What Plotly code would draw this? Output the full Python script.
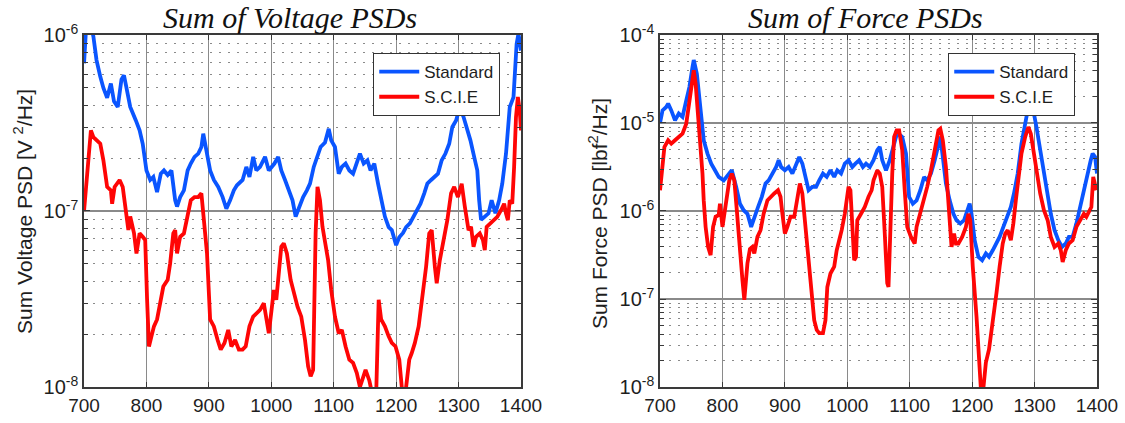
import plotly.graph_objects as go

# ---- Sum of Voltage PSDs (V^2/Hz) ----
volt_freq_std = [700, 703, 708, 712, 715, 720, 726, 731, 737, 743, 748, 754, 760, 764, 768,
                 774, 783, 789, 794, 800, 806, 811, 817, 823, 828, 834, 840, 846, 849, 854,
                 860, 866, 871, 877, 883, 888, 891, 896, 902, 908, 915, 922, 928, 934, 940,
                 945, 954, 960, 965, 971, 976, 982, 990, 996, 1005, 1011, 1016, 1022, 1028, 1034,
                 1039, 1045, 1051, 1057, 1062, 1068, 1074, 1079, 1086, 1092, 1096, 1102, 1108, 1113, 1119,
                 1125, 1131, 1137, 1142, 1148, 1154, 1159, 1165, 1171, 1176, 1182, 1188, 1193, 1200, 1205,
                 1211, 1216, 1222, 1228, 1233, 1239, 1245, 1250, 1256, 1262, 1267, 1273, 1279, 1285, 1290,
                 1296, 1302, 1308, 1313, 1319, 1325, 1330, 1333, 1336, 1342, 1348, 1353, 1359, 1365, 1370,
                 1376, 1382, 1388, 1393, 1396, 1400]
volt_std = [6.9e-7, 1.05e-6, 1.1e-6, 1.1e-6, 9.8e-7, 7.2e-7, 5.8e-7, 5.0e-7, 4.4e-7, 5.3e-7,
            4.2e-7, 3.9e-7, 5.6e-7, 5.9e-7, 5.0e-7, 3.9e-7, 3.27e-7, 2.87e-7, 2.41e-7, 1.70e-7,
            1.50e-7, 1.56e-7, 1.28e-7, 1.63e-7, 1.70e-7, 1.60e-7, 1.70e-7, 1.15e-7, 1.06e-7, 1.20e-7,
            1.31e-7, 1.70e-7, 1.86e-7, 2.03e-7, 2.12e-7, 2.31e-7, 2.75e-7, 2.21e-7, 1.70e-7, 1.50e-7,
            1.37e-7, 1.20e-7, 1.03e-7, 1.15e-7, 1.31e-7, 1.40e-7, 1.50e-7, 1.78e-7, 1.56e-7, 2.03e-7,
            1.70e-7, 1.78e-7, 2.03e-7, 1.70e-7, 1.86e-7, 2.03e-7, 1.70e-7, 1.50e-7, 1.31e-7, 1.15e-7,
            9.3e-8, 1.06e-7, 1.20e-7, 1.31e-7, 1.43e-7, 1.78e-7, 2.03e-7, 2.31e-7, 2.45e-7, 2.93e-7,
            2.52e-7, 2.31e-7, 1.63e-7, 1.78e-7, 1.86e-7, 1.70e-7, 1.63e-7, 1.86e-7, 2.12e-7, 1.86e-7,
            1.94e-7, 1.70e-7, 1.86e-7, 1.43e-7, 1.15e-7, 9.3e-8, 8.1e-8, 7.8e-8, 6.4e-8, 7.1e-8,
            7.5e-8, 8.1e-8, 8.5e-8, 9.3e-8, 1.01e-7, 1.10e-7, 1.26e-7, 1.43e-7, 1.50e-7, 1.56e-7,
            1.63e-7, 1.94e-7, 2.12e-7, 2.41e-7, 3.00e-7, 3.27e-7, 3.89e-7, 3.42e-7, 3.00e-7, 2.52e-7,
            2.03e-7, 1.70e-7, 1.15e-7, 8.9e-8, 9.3e-8, 9.7e-8, 1.15e-7, 9.7e-8, 1.15e-7, 1.43e-7,
            2.12e-7, 3.89e-7, 4.44e-7, 8.9e-7, 1.02e-6, 8.15e-7]

volt_freq_scie = [700, 706, 711, 715, 720, 726, 731, 737, 743, 745, 749, 757, 762, 768, 771,
                  774, 780, 784, 789, 794, 798, 801, 804, 808, 812, 817, 823, 827, 834, 838,
                  843, 846, 849, 854, 860, 866, 871, 877, 883, 888, 892, 897, 902, 908, 914,
                  919, 925, 931, 936, 942, 948, 954, 959, 965, 971, 976, 982, 988, 992, 996,
                  1001, 1004, 1008, 1012, 1016, 1020, 1025, 1031, 1036, 1042, 1048, 1054, 1059, 1063, 1067,
                  1071, 1074, 1078, 1082, 1086, 1091, 1096, 1102, 1108, 1113, 1119, 1125, 1131, 1137, 1142,
                  1145, 1151, 1157, 1162, 1168, 1172, 1176, 1182, 1188, 1193, 1199, 1205, 1209, 1212, 1216,
                  1221, 1225, 1230, 1236, 1242, 1248, 1253, 1257, 1262, 1265, 1270, 1276, 1282, 1288, 1293,
                  1299, 1305, 1310, 1316, 1320, 1324, 1328, 1334, 1339, 1342, 1345, 1351, 1356, 1362, 1368,
                  1373, 1376, 1379, 1382, 1386, 1389, 1392, 1395, 1398, 1400]
volt_scie = [1.0e-7, 1.94e-7, 2.87e-7, 2.63e-7, 2.52e-7, 2.41e-7, 1.94e-7, 1.37e-7, 1.31e-7, 1.10e-7,
             1.37e-7, 1.50e-7, 1.37e-7, 9.3e-8, 7.8e-8, 9.3e-8, 7.5e-8, 5.74e-8, 7.46e-8, 7.14e-8,
             6.84e-8, 3.13e-8, 1.70e-8, 1.94e-8, 2.21e-8, 2.42e-8, 3.13e-8, 3.72e-8, 4.06e-8, 5.05e-8,
             7.46e-8, 7.78e-8, 5.74e-8, 7.14e-8, 7.46e-8, 9.68e-8, 1.15e-7, 1.20e-7, 1.20e-7, 1.26e-7,
             9.27e-8, 5.74e-8, 2.42e-8, 2.21e-8, 1.85e-8, 1.63e-8, 1.78e-8, 2.11e-8, 1.70e-8, 1.85e-8,
             1.63e-8, 1.63e-8, 1.70e-8, 2.21e-8, 2.51e-8, 2.62e-8, 2.74e-8, 2.99e-8, 2.42e-8, 2.02e-8,
             2.86e-8, 3.56e-8, 3.13e-8, 4.24e-8, 6.27e-8, 6.55e-8, 5.74e-8, 4.06e-8, 3.41e-8, 2.86e-8,
             2.51e-8, 1.85e-8, 1.31e-8, 1.15e-8, 1.25e-8, 7.46e-8, 1.37e-7, 1.15e-7, 8.13e-8, 6.84e-8,
             5.26e-8, 3.56e-8, 2.51e-8, 2.02e-8, 2.11e-8, 1.70e-8, 1.43e-8, 1.37e-8, 1.20e-8, 1.00e-8,
             1.09e-8, 1.25e-8, 1.09e-8, 9.0e-9, 9.0e-9, 3.13e-8, 2.42e-8, 2.21e-8, 1.94e-8, 1.78e-8,
             1.70e-8, 1.43e-8, 1.00e-8, 9.0e-9, 1.00e-8, 1.43e-8, 1.56e-8, 1.78e-8, 2.21e-8, 3.13e-8,
             4.83e-8, 7.46e-8, 7.78e-8, 4.83e-8, 3.88e-8, 5.26e-8, 6.84e-8, 8.87e-8, 1.26e-7, 1.37e-7,
             1.20e-7, 1.43e-7, 1.06e-7, 7.78e-8, 8.13e-8, 6.27e-8, 7.14e-8, 7.46e-8, 6.84e-8, 6.0e-8,
             8.13e-8, 8.5e-8, 8.87e-8, 9.27e-8, 1.01e-7, 1.10e-7, 9.68e-8, 8.87e-8, 1.15e-7, 1.10e-7,
             1.78e-7, 3.42e-7, 4.44e-7, 3.73e-7, 2.87e-7]

# ---- Sum of Force PSDs (lbf^2/Hz) ----
force_freq_std = [700, 704, 710, 713, 718, 724, 730, 736, 742, 747, 752, 754, 759, 765, 770,
                  776, 782, 788, 794, 802, 811, 815, 822, 828, 834, 840, 846, 851, 857, 863,
                  869, 874, 880, 886, 890, 894, 900, 906, 912, 918, 923, 928, 932, 938, 944,
                  950, 955, 961, 967, 973, 979, 984, 990, 996, 1002, 1008, 1013, 1019, 1025, 1030,
                  1036, 1042, 1048, 1052, 1056, 1062, 1068, 1074, 1078, 1082, 1088, 1094, 1099, 1105, 1111,
                  1117, 1123, 1128, 1134, 1140, 1146, 1149, 1153, 1158, 1164, 1170, 1175, 1181, 1187, 1193,
                  1196, 1199, 1204, 1210, 1216, 1222, 1227, 1233, 1239, 1244, 1250, 1256, 1262, 1267, 1273,
                  1279, 1285, 1290, 1294, 1298, 1303, 1309, 1315, 1321, 1326, 1332, 1338, 1344, 1350, 1355,
                  1361, 1367, 1373, 1379, 1384, 1390, 1393, 1397, 1400]
force_std = [1.0e-5, 1.39e-5, 1.52e-5, 1.66e-5, 1.39e-5, 1.07e-5, 1.28e-5, 1.17e-5, 1.81e-5, 2.56e-5,
             4.33e-5, 5.2e-5, 3.63e-5, 1.39e-5, 6.36e-6, 4.49e-6, 3.45e-6, 2.9e-6, 2.44e-6, 2.23e-6,
             2.66e-6, 2.9e-6, 1.88e-6, 1.21e-6, 1.02e-6, 9.3e-7, 6.6e-7, 8.6e-7, 1.11e-6, 1.45e-6,
             2.05e-6, 2.23e-6, 2.66e-6, 3.16e-6, 3.77e-6, 3.16e-6, 2.9e-6, 3.16e-6, 2.66e-6, 3.45e-6,
             4.11e-6, 3.45e-6, 2.66e-6, 1.72e-6, 1.88e-6, 1.88e-6, 2.23e-6, 2.66e-6, 2.44e-6, 2.9e-6,
             2.44e-6, 2.9e-6, 2.66e-6, 3.45e-6, 3.77e-6, 3.16e-6, 3.45e-6, 3.77e-6, 3.16e-6, 3.45e-6,
             3.16e-6, 3.77e-6, 4.9e-6, 5.34e-6, 3.77e-6, 2.9e-6, 3.77e-6, 5.34e-6, 6.94e-6, 7.57e-6,
             6.94e-6, 4.49e-6, 1.45e-6, 1.21e-6, 1.32e-6, 1.72e-6, 2.44e-6, 2.23e-6, 2.66e-6, 3.77e-6,
             5.82e-6, 6.94e-6, 4.11e-6, 2.05e-6, 1.32e-6, 9.3e-7, 7.85e-7, 7.2e-7, 7.85e-7, 1.02e-6,
             1.21e-6, 9.3e-7, 4.66e-7, 3.01e-7, 2.76e-7, 3.29e-7, 3.01e-7, 3.58e-7, 4.27e-7, 5.08e-7,
             6.6e-7, 8.6e-7, 1.11e-6, 1.58e-6, 2.66e-6, 5.82e-6, 1.07e-5, 1.52e-5, 1.81e-5, 1.39e-5,
             9.0e-6, 4.9e-6, 2.44e-6, 1.32e-6, 9.3e-7, 6.05e-7, 4.66e-7, 3.91e-7, 4.27e-7, 5.08e-7,
             5.08e-7, 7.2e-7, 1.11e-6, 1.88e-6, 2.66e-6, 3.77e-6, 4.49e-6, 4.11e-6, 2.66e-6]

force_freq_scie = [700, 703, 707, 713, 718, 724, 730, 736, 742, 747, 750, 754, 757, 761, 765,
                   768, 770, 773, 777, 781, 785, 789, 794, 796, 800, 805, 811, 815, 819, 823,
                   828, 832, 835, 840, 844, 848, 851, 856, 861, 866, 872, 877, 883, 889, 893,
                   896, 900, 904, 909, 915, 920, 924, 928, 932, 938, 943, 947, 951, 955, 961,
                   965, 968, 973, 979, 983, 987, 991, 996, 999, 1002, 1005, 1008, 1011, 1014, 1016,
                   1022, 1028, 1034, 1039, 1042, 1048, 1052, 1056, 1060, 1064, 1066, 1068, 1072, 1075, 1079,
                   1083, 1088, 1092, 1096, 1102, 1108, 1111, 1117, 1123, 1128, 1134, 1140, 1146, 1149, 1153,
                   1158, 1163, 1167, 1171, 1174, 1178, 1184, 1190, 1194, 1197, 1201, 1207, 1211, 1214, 1218,
                   1222, 1227, 1233, 1239, 1244, 1249, 1253, 1257, 1262, 1266, 1270, 1275, 1279, 1285, 1290,
                   1294, 1298, 1303, 1309, 1315, 1321, 1326, 1332, 1338, 1342, 1345, 1350, 1355, 1361, 1367,
                   1373, 1379, 1383, 1386, 1391, 1394, 1397, 1399]
force_scie = [1.72e-6, 3.16e-6, 5.34e-6, 6.36e-6, 5.82e-6, 6.36e-6, 6.94e-6, 7.57e-6, 9.8e-6, 1.81e-5,
              2.8e-5, 3.96e-5, 2.8e-5, 1.17e-5, 6.36e-6, 2.66e-6, 1.32e-6, 6.6e-7, 3.91e-7, 3.15e-7,
              6.6e-7, 8.6e-7, 9.0e-7, 1.21e-6, 6.6e-7, 1.21e-6, 2.23e-6, 2.66e-6, 2.23e-6, 1.02e-6,
              3.29e-7, 1.64e-7, 9.8e-8, 2.53e-7, 3.7e-7, 3.91e-7, 3.29e-7, 5.08e-7, 6.05e-7, 9.3e-7,
              1.32e-6, 1.45e-6, 1.58e-6, 1.72e-6, 1.45e-6, 9.3e-7, 5.55e-7, 6.6e-7, 8.6e-7, 8.6e-7,
              1.45e-6, 2.05e-6, 1.58e-6, 7.85e-7, 2.76e-7, 1.26e-7, 5.75e-8, 4.45e-8, 4.1e-8, 4.1e-8,
              5.75e-8, 1.37e-7, 1.95e-7, 2.33e-7, 3.58e-7, 4.66e-7, 6.05e-7, 9.3e-7, 1.32e-6, 1.88e-6,
              1.72e-6, 5.55e-7, 2.76e-7, 3.01e-7, 7.85e-7, 9.3e-7, 1.11e-6, 1.45e-6, 1.72e-6, 2.23e-6,
              2.9e-6, 2.66e-6, 1.88e-6, 5.55e-7, 1.51e-7, 1.37e-7, 4.66e-7, 2.66e-6, 6.94e-6, 8.26e-6,
              8.26e-6, 4.9e-6, 1.72e-6, 6.6e-7, 5.08e-7, 4.27e-7, 6.6e-7, 9.3e-7, 1.32e-6, 1.88e-6,
              2.9e-6, 4.9e-6, 8.26e-6, 8.6e-6, 6.36e-6, 3.16e-6, 1.02e-6, 3.91e-7, 5.55e-7, 4.27e-7,
              4.27e-7, 5.08e-7, 6.6e-7, 9.3e-7, 7.85e-7, 2.33e-7, 6.3e-8, 2.04e-8, 9.5e-9, 9.7e-9,
              1.9e-8, 2.67e-8, 5.3e-8, 1.17e-7, 2.33e-7, 4.27e-7, 5.55e-7, 6.05e-7, 4.66e-7, 7.2e-7,
              1.32e-6, 2.66e-6, 4.49e-6, 6.94e-6, 9.0e-6, 7.57e-6, 4.9e-6, 2.66e-6, 1.58e-6, 1.02e-6,
              7.85e-7, 5.08e-7, 3.91e-7, 4.27e-7, 3.58e-7, 2.64e-7, 3.58e-7, 4.27e-7, 4.66e-7, 6.6e-7,
              7.85e-7, 9.3e-7, 8.6e-7, 9.3e-7, 1.11e-6, 2.44e-6, 1.88e-6, 1.72e-6]

BLUE = "#0a55ff"
RED = "#ff0505"
SANS = "Liberation Sans, Arial, sans-serif"
SERIF = "Liberation Serif, Times New Roman, serif"
TEXT = "#1e1e1e"
LINE_W = 3.8

fig = go.Figure()

fig.add_trace(go.Scatter(x=volt_freq_std, y=volt_std, mode="lines", name="Standard",
                         line=dict(color=BLUE, width=LINE_W), xaxis="x", yaxis="y", legend="legend"))
fig.add_trace(go.Scatter(x=volt_freq_scie, y=volt_scie, mode="lines", name="S.C.I.E",
                         line=dict(color=RED, width=LINE_W), xaxis="x", yaxis="y", legend="legend"))
fig.add_trace(go.Scatter(x=force_freq_std, y=force_std, mode="lines", name="Standard",
                         line=dict(color=BLUE, width=LINE_W), xaxis="x2", yaxis="y2", legend="legend2"))
fig.add_trace(go.Scatter(x=force_freq_scie, y=force_scie, mode="lines", name="S.C.I.E",
                         line=dict(color=RED, width=LINE_W), xaxis="x2", yaxis="y2", legend="legend2"))

freq_ticks = [700, 800, 900, 1000, 1100, 1200, 1300, 1400]

xaxis_common = dict(
    range=[700, 1400], tickvals=freq_ticks, ticktext=[str(v) for v in freq_ticks],
    automargin=False,
    showgrid=True, gridcolor="#8a8a8a", gridwidth=1.3,
    showline=True, linecolor="#3a3a3a", linewidth=1.5, mirror="ticks",
    ticks="inside", ticklen=5, tickcolor="#3a3a3a",
    tickfont=dict(family=SANS, size=19, color=TEXT), zeroline=False,
)

minor_common = dict(
    dtick="D1", ticks="inside", ticklen=4, tickcolor="#3a3a3a",
    showgrid=True, griddash="2px,7px", gridcolor="#8a8a8a", gridwidth=1,
)

yaxis_common = dict(
    type="log", automargin=False,
    showgrid=True, gridcolor="#8a8a8a", gridwidth=1.5,
    showline=True, linecolor="#3a3a3a", linewidth=1.5, mirror="ticks",
    ticks="inside", ticklen=6, tickcolor="#3a3a3a",
    tickfont=dict(family=SANS, size=20, color=TEXT), zeroline=False,
    minor=minor_common,
)

volt_decades = [1e-8, 1e-7, 1e-6]
force_decades = [1e-8, 1e-7, 1e-6, 1e-5, 1e-4]

legend_common = dict(
    xanchor="left", yanchor="top",
    bgcolor="white", bordercolor="#333333", borderwidth=1.2,
    font=dict(family=SANS, size=17, color=TEXT), itemwidth=40, tracegroupgap=0,
)

fig.update_layout(
    width=1125, height=423,
    margin=dict(l=0, r=0, t=0, b=0, autoexpand=False),
    paper_bgcolor="white", plot_bgcolor="white",
    showlegend=True,
    xaxis=dict(domain=[0.0747, 0.4631], anchor="y", **xaxis_common),
    xaxis2=dict(domain=[0.5867, 0.9751], anchor="y2", **xaxis_common),
    yaxis=dict(domain=[0.0851, 0.9173], anchor="x", range=[-8, -6],
               tickvals=volt_decades,
               ticktext=["10<sup>-8</sup>", "10<sup>-7</sup>", "10<sup>-6</sup>"],
               **yaxis_common),
    yaxis2=dict(domain=[0.0851, 0.9173], anchor="x2", range=[-8, -4],
                tickvals=force_decades,
                ticktext=["10<sup>-8</sup>", "10<sup>-7</sup>", "10<sup>-6</sup>",
                          "10<sup>-5</sup>", "10<sup>-4</sup>"],
                **yaxis_common),
    legend=dict(x=0.3316, y=0.875, **legend_common),
    legend2=dict(x=0.8427, y=0.875, **legend_common),
    annotations=[
        dict(text="<i>Sum of Voltage PSDs</i>", x=0.258, y=0.958, xref="paper", yref="paper",
             xanchor="center", yanchor="middle", showarrow=False,
             font=dict(family=SERIF, size=30, color="#111111")),
        dict(text="<i>Sum of Force PSDs</i>", x=0.769, y=0.958, xref="paper", yref="paper",
             xanchor="center", yanchor="middle", showarrow=False,
             font=dict(family=SERIF, size=30, color="#111111")),
        dict(text="Sum Voltage PSD [V <sup>2</sup>/Hz]", x=0.0205, y=0.499, xref="paper", yref="paper",
             xanchor="center", yanchor="middle", textangle=-90, showarrow=False,
             font=dict(family=SANS, size=21, color=TEXT)),
        dict(text="Sum Force PSD [lbf<sup>2</sup>/Hz]", x=0.5316, y=0.494, xref="paper", yref="paper",
             xanchor="center", yanchor="middle", textangle=-90, showarrow=False,
             font=dict(family=SANS, size=21, color=TEXT)),
    ],
)

fig.write_html("out.html")
